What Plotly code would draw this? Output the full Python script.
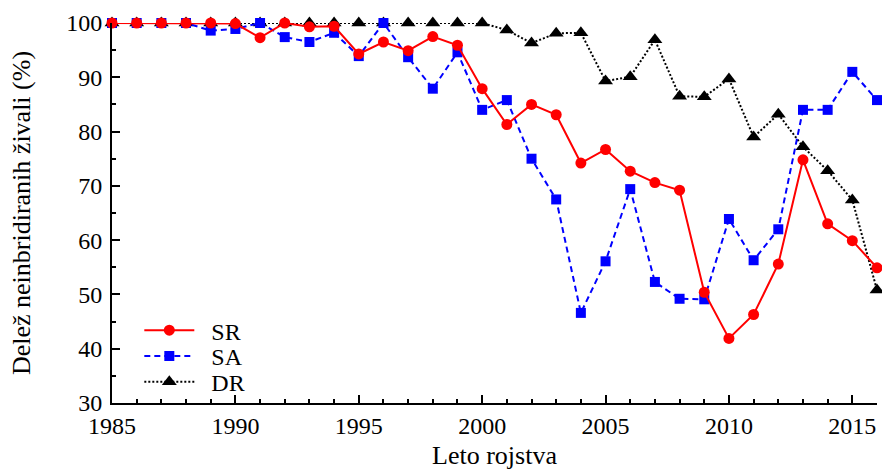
import plotly.graph_objects as go

years = list(range(1985, 2017))
sr = [100, 100, 100, 100, 100, 99.9, 97.3, 100, 99.3, 99.4, 94.3, 96.5, 94.9, 97.5, 95.9,
      87.9, 81.3, 85.0, 83.1, 74.2, 76.7, 72.7, 70.6, 69.2, 50.4, 41.9, 46.3, 55.6, 74.8,
      63.0, 59.9, 54.9]
sa = [100, 100, 100, 100, 98.6, 98.9, 100, 97.4, 96.5, 98.2, 93.9, 100, 93.7, 87.9, 94.6,
      84.0, 85.8, 75.0, 67.5, 46.6, 56.1, 69.4, 52.3, 49.2, 49.1, 63.9, 56.3, 62.0, 84.0,
      84.0, 91.0, 85.8]
dr = [100, 100, 100, 100, 100, 100, 100, 100, 100, 100, 100, 100, 100, 100, 100,
      100, 98.7, 96.3, 98.1, 98.2, 89.3, 90.1, 96.9, 86.5, 86.4, 89.7, 79.0, 83.2, 77.2,
      72.8, 67.4, 50.8]

font_family = "Liberation Serif, Times New Roman, serif"

fig = go.Figure()
fig.add_trace(go.Scatter(x=years, y=dr, name="\u2002DR", mode="lines+markers",
                         line=dict(color="black", width=2, dash="2px,2px"),
                         marker=dict(symbol="triangle-up", size=13, color="black"),
                         cliponaxis=False, legend="legend3"))
fig.add_trace(go.Scatter(x=years, y=sa, name="\u2002SA", mode="lines+markers",
                         line=dict(color="#0000ff", width=2, dash="6px,4px"),
                         marker=dict(symbol="square", size=10, color="#0000ff"),
                         cliponaxis=False, legend="legend2"))
fig.add_trace(go.Scatter(x=years, y=sr, name="\u2002SR", mode="lines+markers",
                         line=dict(color="#ff0000", width=2),
                         marker=dict(symbol="circle", size=11, color="#ff0000"),
                         cliponaxis=False, legend="legend"))

def leg(ypix):
    return dict(x=0.0357, y=(406 - ypix) / 383, xanchor="left", yanchor="middle",
                bgcolor="rgba(0,0,0,0)", font=dict(size=24, family=font_family),
                itemwidth=50)

fig.update_layout(
    width=882, height=470,
    margin=dict(l=112, r=5, t=23, b=64),
    paper_bgcolor="white", plot_bgcolor="white",
    font=dict(family=font_family, size=24, color="black"),
    showlegend=True,
    legend=leg(333),
    legend2=leg(359),
    legend3=leg(385),
    xaxis=dict(range=[1985, 2016], tickmode="linear", tick0=1985, dtick=5,
               ticks="inside", ticklen=8, tickwidth=1.5, tickcolor="black",
               showline=True, linecolor="black", linewidth=2,
               showgrid=False, zeroline=False,
               minor=dict(ticks="inside", dtick=1, ticklen=4, tickcolor="black", tickwidth=1.5),
               title=dict(text="Leto rojstva", standoff=8, font=dict(size=26))),
    yaxis=dict(range=[30, 100], tickmode="linear", tick0=30, dtick=10,
               ticks="inside", ticklen=8, tickwidth=1.5, tickcolor="black",
               showline=True, linecolor="black", linewidth=2,
               showgrid=False, zeroline=False, ticklabelstandoff=3,
               minor=dict(ticks="inside", dtick=5, ticklen=4, tickcolor="black", tickwidth=1.5),
               title=dict(text="Delež neinbridiranih živali (%)", standoff=28, font=dict(size=26))),
)

fig.write_html("out.html")
